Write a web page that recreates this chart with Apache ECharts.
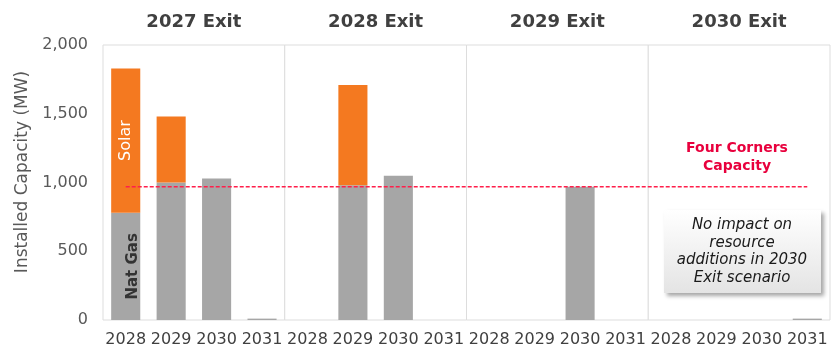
<!DOCTYPE html>
<html>
<head>
<meta charset="utf-8">
<script src="https://cdn.jsdelivr.net/npm/echarts@6/dist/echarts.min.js"></script>
<style>
  html, body { margin: 0; padding: 0; background: #ffffff; }
  #chart { width: 838px; height: 351px; }
</style>
</head>
<body>
<div id="chart"></div>
<script>
// Resource additions (MW) by year for each Four Corners exit scenario
const years = ['2028', '2029', '2030', '2031'];
const panelTitles = ['2027 Exit', '2028 Exit', '2029 Exit', '2030 Exit'];

const gasExit2027 = [780, 1000, 1030, 10];
const solarExit2027 = [1050, 480, 0, 0];
const gasExit2028 = [0, 980, 1050, 0];
const solarExit2028 = [0, 730, 0, 0];
const gasExit2029 = [0, 0, 970, 0];
const solarExit2029 = [0, 0, 0, 0];
const gasExit2030 = [0, 0, 0, 10];
const solarExit2030 = [0, 0, 0, 0];

const gasByPanel = [gasExit2027, gasExit2028, gasExit2029, gasExit2030];
const solarByPanel = [solarExit2027, solarExit2028, solarExit2029, solarExit2030];

// Four Corners capacity reference line, spanning slot 0 to slot 15 of the 16 year slots
const fourCornersMW = 970;
const capacitySpan = [0, 15];

const yTicks = { min: 0, max: 2000, interval: 500 };
const yTitle = 'Installed Capacity (MW)';
const noteLines = ['No impact on', 'resource', 'additions in 2030', 'Exit scenario'];

const FONT = 'DejaVu Sans';
const GAS = '#A6A6A6';
const SOLAR = '#F47920';

const plotLeft = 103, plotTop = 45, plotHeight = 275, panelWidth = 181.75;

const grids = [], xAxes = [], yAxes = [], series = [];

panelTitles.forEach((t, i) => {
  grids.push({
    left: plotLeft + i * panelWidth, top: plotTop,
    width: panelWidth, height: plotHeight,
    show: true, borderColor: '#dddddd', borderWidth: 1,
    backgroundColor: '#ffffff'
  });
  xAxes.push({
    type: 'category', gridIndex: i, data: years,
    axisLine: { show: false }, axisTick: { show: false },
    axisLabel: { color: '#404040', fontFamily: FONT, fontSize: 16, margin: 12, interval: 0 }
  });
  yAxes.push({
    type: 'value', gridIndex: i,
    min: yTicks.min, max: yTicks.max, interval: yTicks.interval,
    splitLine: { show: false }, axisLine: { show: false }, axisTick: { show: false },
    axisLabel: i === 0 ? {
      color: '#595959', fontFamily: FONT, fontSize: 16, margin: 15,
      formatter: v => v.toLocaleString('en-US')
    } : { show: false }
  });

  const labelOn = (i === 0);
  series.push({
    name: 'Nat Gas', type: 'bar', stack: 'p' + i,
    xAxisIndex: i, yAxisIndex: i, barWidth: '64%',
    itemStyle: { color: GAS },
    data: gasByPanel[i].map((v, k) => (labelOn && k === 0) ? {
      value: v,
      label: {
        show: true, position: 'inside', rotate: 90, offset: [0, 7],
        formatter: '{a}', color: '#333333', fontFamily: FONT, fontSize: 15, fontWeight: 'bold'
      }
    } : v),
    z: 2
  });
  series.push({
    name: 'Solar', type: 'bar', stack: 'p' + i,
    xAxisIndex: i, yAxisIndex: i, barWidth: '64%',
    itemStyle: { color: SOLAR },
    data: solarByPanel[i].map((v, k) => (labelOn && k === 0) ? {
      value: v,
      label: {
        show: true, position: 'inside', rotate: 90, offset: [0, 0],
        formatter: '{a}', color: '#ffffff', fontFamily: FONT, fontSize: 16
      }
    } : v),
    z: 2
  });
});

// Overlay grid carrying the capacity reference line across all panels
grids.push({ left: plotLeft, top: plotTop, width: panelWidth * 4, height: plotHeight });
xAxes.push({ type: 'value', gridIndex: 4, min: -0.5, max: 15.5, show: false });
yAxes.push({ type: 'value', gridIndex: 4, min: yTicks.min, max: yTicks.max, show: false });
series.push({
  name: 'Four Corners Capacity', type: 'line', xAxisIndex: 4, yAxisIndex: 4,
  data: capacitySpan.map(x => [x, fourCornersMW]),
  symbol: 'none', silent: true,
  lineStyle: { color: '#FF1F4B', width: 1.5, type: [4, 2] },
  z: 5
});

const graphics = panelTitles.map((t, i) => ({
  type: 'text',
  x: plotLeft + (i + 0.5) * panelWidth, y: 22,
  style: {
    text: t, fill: '#404040', font: 'bold 18px "DejaVu Sans"',
    textAlign: 'center', textVerticalAlign: 'middle'
  },
  z: 10
}));

// Vertical axis title
graphics.push({
  type: 'text', x: 23, y: 172, rotation: Math.PI / 2,
  style: {
    text: yTitle, fill: '#595959', font: '17px "DejaVu Sans"',
    textAlign: 'center', textVerticalAlign: 'middle'
  },
  z: 10
});

graphics.push({
  type: 'text', x: 737, y: 157,
  style: {
    text: 'Four Corners\nCapacity', fill: '#E8003D',
    font: 'bold 14px "DejaVu Sans"', lineHeight: 18,
    textAlign: 'center', textVerticalAlign: 'middle'
  },
  z: 10
});

graphics.push({
  type: 'rect',
  shape: { x: 664, y: 210, width: 157, height: 83 },
  style: {
    fill: new echarts.graphic.LinearGradient(0, 0, 0, 1, [
      { offset: 0, color: '#ffffff' },
      { offset: 1, color: '#e4e4e4' }
    ]),
    shadowBlur: 4, shadowOffsetX: 3, shadowOffsetY: 3,
    shadowColor: 'rgba(0,0,0,0.35)'
  },
  z: 9
});
graphics.push({
  type: 'text', x: 742, y: 251.5,
  style: {
    text: noteLines.join('\n'), fill: '#1a1a1a',
    font: 'italic 15px "DejaVu Sans"', lineHeight: 17.5,
    textAlign: 'center', textVerticalAlign: 'middle'
  },
  z: 10
});

const chart = echarts.init(document.getElementById('chart'), null, { renderer: 'canvas' });
chart.setOption({
  animation: false,
  backgroundColor: '#ffffff',
  grid: grids, xAxis: xAxes, yAxis: yAxes, series: series,
  graphic: graphics
});
</script>
</body>
</html>
